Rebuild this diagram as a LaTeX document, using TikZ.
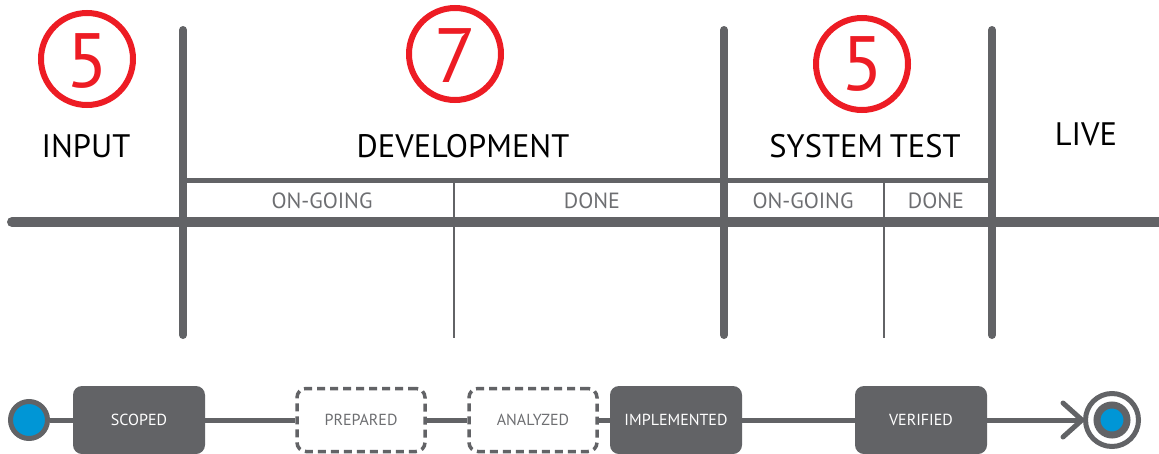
\documentclass[tikz,border=0pt]{standalone}
\usepackage{fontspec}
\setmainfont{PT Sans}
\definecolor{lgrey}{HTML}{626366}
\definecolor{tgrey}{HTML}{6D6E71}
\definecolor{kred}{HTML}{ED1C24}
\definecolor{kblue}{HTML}{0096D6}
\tikzset{
  lane/.style={draw=lgrey,line width=8pt,line cap=round},
  thinlane/.style={draw=lgrey,line width=2pt},
  wip/.style={circle,draw=kred,line width=6pt,minimum size=92pt,inner sep=0pt},
  wipnum/.style={text=kred,font=\fontsize{77}{80}\selectfont,anchor=base},
  head/.style={font=\fontsize{32.5}{34}\selectfont,anchor=base,text=black},
  sub/.style={font=\fontsize{22}{23}\selectfont,anchor=base,text=tgrey},
  state/.style={rectangle,rounded corners=9pt,fill=lgrey,minimum width=132pt,minimum height=68pt,text=white,font=\fontsize{16}{17}\selectfont},
  opt/.style={rectangle,rounded corners=9pt,draw=lgrey,dash pattern=on 8pt off 5pt,line width=3.5pt,minimum width=128pt,minimum height=63pt,text=tgrey,font=\fontsize{16}{17}\selectfont},
  conn/.style={draw=lgrey,line width=5pt},
}
\begin{document}
\begin{tikzpicture}[x=1pt,y=-1pt]
\useasboundingbox (0,0) rectangle (1159,453);
% lanes
\draw[lane,line width=10pt] (12,222) -- (1175,222);
\draw[lane] (183,30) -- (183,335);
\draw[lane] (724,30) -- (724,335);
\draw[lane] (992,30) -- (992,335);
\draw[draw=lgrey,line width=5pt] (183,180.5) -- (992,180.5);
\draw[thinlane] (454,182) -- (454,338);
\draw[thinlane] (884,182) -- (884,338);
% WIP limits
\node[wip] (c1) at (87,59) {};
\node[wipnum] (n1) at (87,87) {5};
\node[wip] (c2) at (455,54) {};
\node[wipnum] (n2) at (455,82) {7};
\node[wip] (c3) at (862,64) {};
\node[wipnum] (n3) at (862,90) {5};
% headers
\node[head] (input) at (86,157) {INPUT};
\node[head] (dev) at (463,157) {DEVELOPMENT};
\node[head] (sys) at (865,157) {SYSTEM\hspace{-2pt} TEST};
\node[head] (live) at (1086,145) {LIVE};
\node[sub] (dog) at (322,208) {ON-GOING};
\node[sub] (ddone) at (592,208) {DONE};
\node[sub] (sog) at (803,208) {ON-GOING};
\node[sub] (sdone) at (936,208) {DONE};
% states
\node[circle,fill=kblue,draw=lgrey,line width=5pt,minimum size=37pt,inner sep=0pt] (start) at (29,420) {};
\node[state] (scoped) at (139,420) {SCOPED};
\node[opt] (prep) at (361,420) {PREPARED};
\node[opt] (anal) at (533,420) {ANALYZED};
\node[state] (impl) at (676,420) {IMPLEMENTED};
\node[state] (ver) at (921,420) {VERIFIED};
\node[circle,draw=lgrey,line width=5pt,minimum size=53pt,inner sep=0pt] (endo) at (1112,420) {};
\node[circle,fill=kblue,draw=lgrey,line width=7pt,minimum size=30pt,inner sep=0pt] (endi) at (1112,420) {};
\coordinate (tip) at (endo.west);
\draw[conn] (start) -- (scoped);
\draw[conn] (scoped) -- (prep);
\draw[conn] (prep) -- (anal);
\draw[conn] (anal) -- (impl);
\draw[conn] (impl) -- (ver);
\draw[conn] (ver) -- ([xshift=-3pt]tip);
\draw[draw=lgrey,line width=5pt,line cap=round] ([xshift=-20pt,yshift=-17pt]tip) -- ([xshift=-1pt]tip) -- ([xshift=-20pt,yshift=17pt]tip);
\end{tikzpicture}
\end{document}
